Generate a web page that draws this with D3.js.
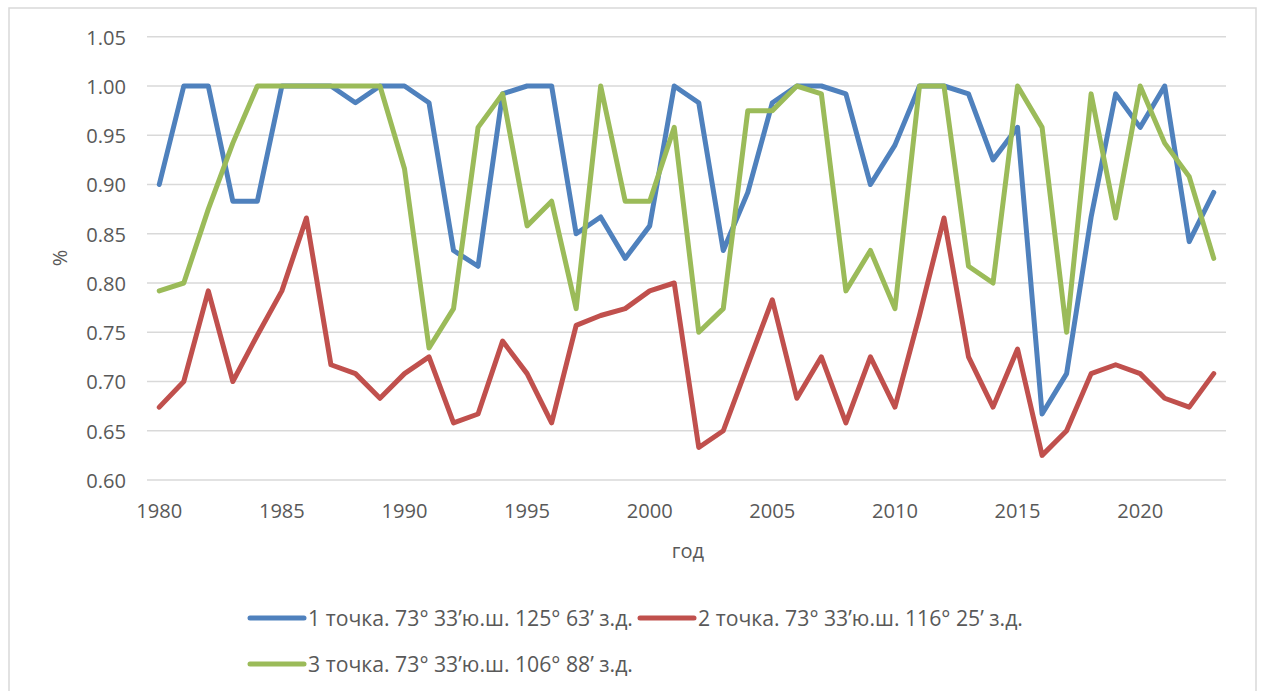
<!DOCTYPE html>
<html>
<head>
<meta charset="utf-8">
<script src="https://cdn.jsdelivr.net/npm/d3@7"></script>
<style>
  html, body { margin: 0; padding: 0; background: #ffffff; }
  svg { display: block; }
  text { font-family: "Open Sans", "Noto Sans", sans-serif; fill: #595959; }
</style>
</head>
<body>
<svg id="chart" width="1264" height="691"></svg>
<script>
const years = d3.range(1980, 2024);
const yTicks = [0.60, 0.65, 0.70, 0.75, 0.80, 0.85, 0.90, 0.95, 1.00, 1.05];
const xTickYears = [1980, 1985, 1990, 1995, 2000, 2005, 2010, 2015, 2020];

const seriesNames = [
  "1 точка. 73° 33’ю.ш. 125° 63’ з.д.",
  "2 точка. 73° 33’ю.ш. 116° 25’ з.д.",
  "3 точка. 73° 33’ю.ш. 106° 88’ з.д."
];

const point1 = [0.900, 1.000, 1.000, 0.883, 0.883, 1.000, 1.000, 1.000, 0.983, 1.000,
                1.000, 0.983, 0.833, 0.817, 0.992, 1.000, 1.000, 0.850, 0.867, 0.825,
                0.858, 1.000, 0.983, 0.833, 0.892, 0.983, 1.000, 1.000, 0.992, 0.900,
                0.940, 1.000, 1.000, 0.992, 0.925, 0.958, 0.667, 0.708, 0.867, 0.992,
                0.958, 1.000, 0.842, 0.892];
const point2 = [0.674, 0.700, 0.792, 0.700, 0.747, 0.792, 0.866, 0.717, 0.708, 0.683,
                0.708, 0.725, 0.658, 0.667, 0.741, 0.708, 0.658, 0.757, 0.767, 0.774,
                0.792, 0.800, 0.633, 0.650, 0.717, 0.783, 0.683, 0.725, 0.658, 0.725,
                0.674, 0.767, 0.866, 0.725, 0.674, 0.733, 0.625, 0.650, 0.708, 0.717,
                0.708, 0.683, 0.674, 0.708];
const point3 = [0.792, 0.800, 0.875, 0.942, 1.000, 1.000, 1.000, 1.000, 1.000, 1.000,
                0.916, 0.734, 0.774, 0.958, 0.992, 0.858, 0.883, 0.774, 1.000, 0.883,
                0.883, 0.958, 0.750, 0.774, 0.975, 0.975, 1.000, 0.992, 0.792, 0.833,
                0.774, 1.000, 1.000, 0.817, 0.800, 1.000, 0.958, 0.750, 0.992, 0.866,
                1.000, 0.942, 0.908, 0.825];

const colors = ["#4f81bd", "#c0504d", "#9bbb59"];
const series = [point1, point2, point3];

const svg = d3.select("#chart");

// chart frame
svg.append("rect")
  .attr("x", 9).attr("y", 8)
  .attr("width", 1247).attr("height", 700)
  .attr("fill", "#ffffff")
  .attr("stroke", "#d9d9d9").attr("stroke-width", 1.5);

const plot = { left: 147, right: 1226, top: 36.75, bottom: 480 };

const x = d3.scaleBand().domain(years).range([plot.left, plot.right]).paddingInner(0).paddingOuter(0);
const xc = yr => x(yr) + x.bandwidth() / 2;
const y = d3.scaleLinear().domain([0.60, 1.05]).range([plot.bottom, plot.top]);

// gridlines
svg.append("g").selectAll("line").data(yTicks).join("line")
  .attr("x1", plot.left).attr("x2", plot.right)
  .attr("y1", d => y(d)).attr("y2", d => y(d))
  .attr("stroke", "#d9d9d9").attr("stroke-width", 1.5);

function fitFont(sel, sampleText, targetWidth, base) {
  const t = svg.append("text").attr("font-size", base).text(sampleText);
  const w = t.node().getComputedTextLength();
  t.remove();
  return base * targetWidth / w;
}

const tickFont = fitFont(svg, "1980", 46, 20);

// y axis
const yAxis = d3.axisLeft(y).tickValues(yTicks).tickFormat(d3.format(".2f")).tickSize(0).tickPadding(0);
const gy = svg.append("g").attr("transform", `translate(126,0)`).call(yAxis);
gy.select(".domain").remove();
gy.selectAll("text")
  .attr("font-size", tickFont)
  .attr("fill", "#595959")
  .attr("dy", "0.36em")
  .style("font-family", '"Open Sans", sans-serif');

// x axis
const xAxis = d3.axisBottom(x).tickValues(xTickYears).tickFormat(d3.format("d")).tickSize(0).tickPadding(0);
const gx = svg.append("g").attr("transform", `translate(0,503)`).call(xAxis);
gx.select(".domain").remove();
gx.selectAll("text")
  .attr("font-size", tickFont)
  .attr("fill", "#595959")
  .attr("dy", "0.36em")
  .attr("y", 8)
  .style("font-family", '"Open Sans", sans-serif');

// axis titles
svg.append("text")
  .attr("x", 688).attr("y", 551).attr("dy", "0.36em")
  .attr("text-anchor", "middle")
  .attr("font-size", tickFont)
  .text("год");
svg.append("text")
  .attr("transform", "translate(60,258) rotate(-90)")
  .attr("dy", "0.36em")
  .attr("text-anchor", "middle")
  .attr("font-size", tickFont)
  .text("%");

// lines
const line = d3.line().x((d, i) => xc(years[i])).y(d => y(d));
svg.append("g").selectAll("path").data(series).join("path")
  .attr("d", d => line(d))
  .attr("fill", "none")
  .attr("stroke", (d, i) => colors[i])
  .attr("stroke-width", 5)
  .attr("stroke-linejoin", "round")
  .attr("stroke-linecap", "round");

// legend
const legendFont = fitFont(svg, seriesNames[0], 325, 18);
const legendPos = [
  { sx: 250, ty: 618 },
  { sx: 640, ty: 618 },
  { sx: 250, ty: 664 }
];
const lg = svg.append("g").selectAll("g").data(seriesNames).join("g")
  .attr("transform", (d, i) => `translate(${legendPos[i].sx},${legendPos[i].ty})`);
lg.append("line")
  .attr("x1", 0).attr("x2", 54).attr("y1", 0).attr("y2", 0)
  .attr("stroke", (d, i) => colors[i])
  .attr("stroke-width", 5)
  .attr("stroke-linecap", "round");
lg.append("text")
  .attr("x", 58).attr("y", 0).attr("dy", "0.36em")
  .attr("font-size", legendFont)
  .text(d => d);
</script>
</body>
</html>
